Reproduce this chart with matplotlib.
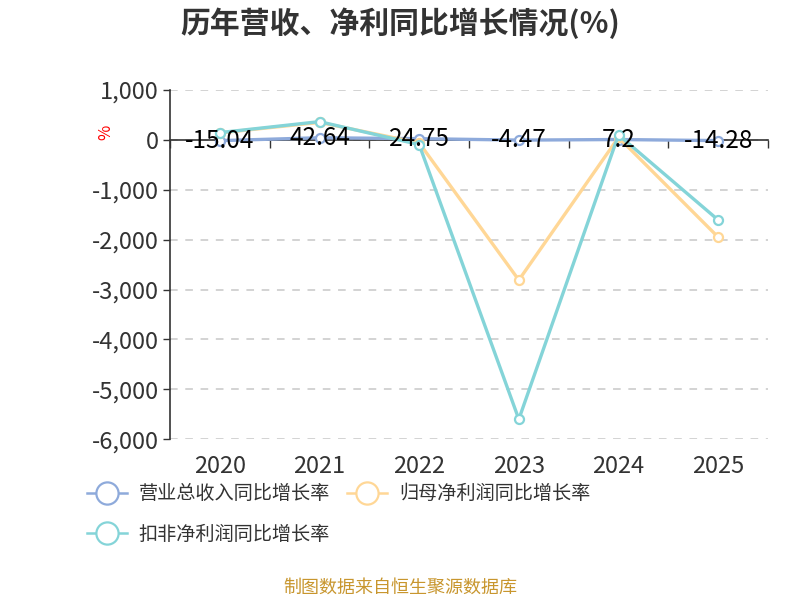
import matplotlib
matplotlib.use("Agg")
import matplotlib.pyplot as plt
from matplotlib.lines import Line2D
from matplotlib.ticker import FuncFormatter

plt.rcParams['font.family'] = ['Noto Sans CJK SC', 'DejaVu Sans']

years = ['2020', '2021', '2022', '2023', '2024', '2025']
revenue_growth = [-15.04, 42.64, 24.75, -4.47, 7.2, -14.28]
parent_profit_growth = [140, 350, -60, -2810, 50, -1950]
deducted_profit_growth = [146, 366, -94, -5600, 100, -1606]
series_names = ['营业总收入同比增长率', '归母净利润同比增长率', '扣非净利润同比增长率']
colors = ['#8eaadb', '#ffd796', '#84d4d8']

fig = plt.figure(figsize=(8, 6), dpi=100)
ax = fig.add_axes([0.2125, 0.268, 0.7475, 0.582])

x = list(range(len(years)))
handles = []
for vals, c, name in zip([revenue_growth, parent_profit_growth, deducted_profit_growth], colors, series_names):
    h, = ax.plot(x, vals, color=c, lw=2.4, marker='o', ms=6.5, mfc='white', mec=c, mew=1.6,
                 label=name, zorder=3, solid_joinstyle='round')
    handles.append(h)

# labels for revenue growth
for xi, v in zip(x, revenue_growth):
    ax.text(xi, v, f'{v:g}', ha='center', va='center', fontsize=17.5, color='black', zorder=5)

ax.set_xlim(-0.5, len(years) - 0.5)
ax.set_ylim(-6000, 1000)
ax.set_yticks(range(-6000, 1001, 1000))
ax.yaxis.set_major_formatter(FuncFormatter(lambda v, p: f'{int(v):,}'))
ax.tick_params(axis='y', labelsize=17, colors='#333333', length=5, width=1, pad=3)
ax.grid(axis='y', color='#c8c8c8', linestyle=(0, (5, 5)), lw=1.1)
ax.set_axisbelow(True)

for s in ['top', 'right']:
    ax.spines[s].set_visible(False)
ax.spines['left'].set_color('#333333')
ax.spines['left'].set_linewidth(1.2)
ax.spines['bottom'].set_position(('data', 0))
ax.spines['bottom'].set_color('#333333')
ax.spines['bottom'].set_linewidth(1.2)
ax.spines['bottom'].set_zorder(2)
ax.set_xticks([i - 0.5 for i in range(len(years) + 1)])
ax.set_xticklabels([])
ax.tick_params(axis='x', length=6, width=1, colors='#333333', direction='out')

for xi, yr in zip(x, years):
    ax.text(xi, -0.045, yr, transform=ax.get_xaxis_transform(), ha='center', va='top',
            fontsize=17, color='#333333')

fig.text(0.132, 0.78, '%', color='red', fontsize=12, rotation=90, ha='center', va='center')

fig.text(0.5, 0.962, '历年营收、净利同比增长情况(%)', ha='center', va='center',
         fontsize=21.5, fontweight='bold', color='#333333')

leg_handles = [Line2D([0], [0], color=c, lw=1.8, marker='o', ms=16, mfc='white', mec=c, mew=1.6)
               for c in colors]
order = [0, 2, 1]
leg = fig.legend([leg_handles[i] for i in order], [series_names[i] for i in order],
                 ncol=2, loc='upper left', bbox_to_anchor=(0.099, 0.207), frameon=False,
                 fontsize=13.8, handlelength=2.1, handletextpad=0.6, columnspacing=0.9,
                 labelspacing=1.0, labelcolor='#333333', borderaxespad=0)

fig.text(0.5, 0.02, '制图数据来自恒生聚源数据库', ha='center', va='center', fontsize=13, color='#c8962e')

fig.savefig('out.png', dpi=100)
